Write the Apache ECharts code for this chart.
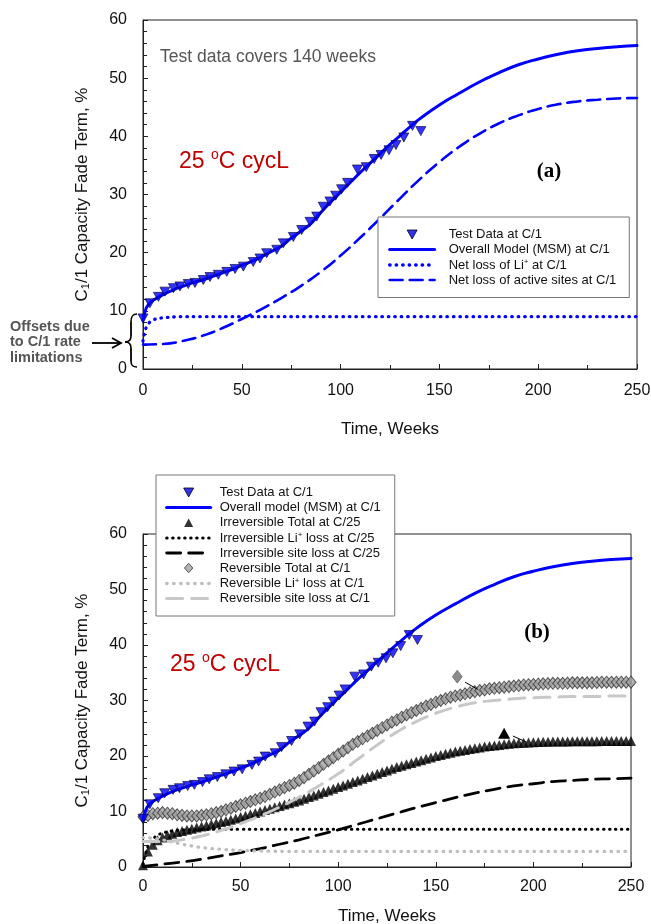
<!DOCTYPE html>
<html><head><meta charset="utf-8">
<script src="https://cdn.jsdelivr.net/npm/echarts@6/dist/echarts.min.js"></script>
<style>html,body{margin:0;padding:0;background:#fff}#c{width:651px;height:924px}</style>
</head><body><div id="c"></div>
<script>
// ---------------- DATA ----------------
const testWeeks = [0, 3.5, 7.8, 11.1, 15.4, 18.7, 22.9, 26.3, 30.5, 33.9, 38.1, 42.4, 46.6, 50.8, 55.8, 59.2, 62.6, 67.7, 71, 76.1, 80.3, 84.5, 87.9, 91.2, 94.6, 97.5, 100.5, 103.5, 108.5, 113, 117, 120.5, 124.5, 128, 132, 136.4, 140.6];
const testValues = [8.7, 11.3, 12.4, 13.3, 13.9, 14.2, 14.6, 14.8, 15.3, 15.8, 16.2, 16.7, 17.2, 17.6, 18.4, 19.0, 19.9, 20.5, 21.6, 22.7, 23.9, 25.3, 26.2, 27.9, 28.8, 29.8, 30.9, 32.0, 34.3, 34.7, 36.1, 36.8, 37.6, 38.5, 39.8, 41.8, 40.9];

const msmWeeks = [0,1,2,4,8,12,16,20,25,30,35,40,45,50,55,60,65,70,75,80,85,90,95,100,105,110,115,120,125,130,135,140,150,160,170,180,190,200,210,220,230,240,250];
const msmValues = [8.4,9.8,10.7,11.5,12.4,13.1,13.7,14.2,14.8,15.3,15.9,16.5,17.1,17.8,18.5,19.3,20.2,21.1,22.5,23.7,25.0,26.9,28.7,30.4,32.1,33.8,35.4,37.0,38.6,40.1,41.6,43.0,45.4,47.4,49.3,50.9,52.3,53.3,54.1,54.7,55.1,55.4,55.6];

const liTopWeeks = [0,1,2,3,5,8,12,16,20,30,50,100,150,200,250];
const liTopValues = [4.8,6.5,7.4,7.9,8.4,8.7,8.85,8.95,9.0,9.0,9.0,9.0,9.0,9.0,9.0];

const siteTopWeeks = [0,10,20,30,40,50,60,70,80,90,100,110,120,130,140,150,160,170,180,190,200,210,220,230,240,250];
const siteTopValues = [4.2,4.3,4.8,5.7,7.0,8.6,10.3,12.2,14.3,16.7,19.5,22.6,25.9,29.3,32.6,35.6,38.2,40.4,42.2,43.6,44.7,45.5,46.0,46.3,46.5,46.6];

const denseWeeks = [0,2.5,5,7.5,10,12.5,15,17.5,20,22.5,25,27.5,30,32.5,35,37.5,40,42.5,45,47.5,50,52.5,55,57.5,60,62.5,65,67.5,70,72.5,75,77.5,80,82.5,85,87.5,90,92.5,95,97.5,100,102.5,105,107.5,110,112.5,115,117.5,120,122.5,125,127.5,130,132.5,135,137.5,140,142.5,145,147.5,150,152.5,155,157.5,160,162.5,165,167.5,170,172.5,175,177.5,180,182.5,185,187.5,190,192.5,195,197.5,200,202.5,205,207.5,210,212.5,215,217.5,220,222.5,225,227.5,230,232.5,235,237.5,240,242.5,245,247.5,250];
const revTotal = [9.0,9.3,9.6,9.7,9.8,9.7,9.6,9.4,9.3,9.2,
  9.2,9.2,9.3,9.4,9.6,9.8,10.0,10.3,10.6,10.9,
  11.2,11.5,11.8,12.1,12.4,12.7,13.1,13.5,13.9,14.3,
  14.7,15.1,15.6,16.1,16.7,17.3,17.9,18.5,19.1,19.7,
  20.3,20.9,21.5,22.1,22.6,23.1,23.6,24.1,24.6,25.1,
  25.6,26.1,26.5,27.0,27.4,27.8,28.2,28.6,29.0,29.3,
  29.7,30.0,30.3,30.6,30.8,31.0,31.2,31.4,31.6,31.8,
  31.9,32.1,32.2,32.3,32.4,32.5,32.6,32.7,32.8,32.85,
  32.9,32.95,33.0,33.05,33.1,33.1,33.1,33.15,33.2,33.2,
  33.2,33.2,33.2,33.25,33.3,33.3,33.3,33.3,33.3,33.3,
  33.3];
const irrTotal = [0.3,2.8,4.0,4.8,5.3,5.7,6.0,6.3,6.5,6.7,
  6.9,7.1,7.3,7.5,7.7,7.9,8.1,8.3,8.5,8.75,
  9.0,9.25,9.5,9.75,10.0,10.25,10.5,10.75,11.0,11.25,
  11.5,11.75,12.0,12.3,12.6,12.9,13.2,13.5,13.8,14.1,
  14.4,14.7,15.0,15.3,15.6,15.9,16.2,16.5,16.8,17.1,
  17.4,17.7,18.0,18.25,18.5,18.75,19.0,19.25,19.5,19.75,
  20.0,20.2,20.4,20.6,20.8,20.95,21.1,21.25,21.4,21.55,
  21.7,21.8,21.9,22.0,22.1,22.2,22.3,22.35,22.4,22.45,
  22.5,22.52,22.55,22.57,22.6,22.6,22.62,22.63,22.65,22.65,
  22.66,22.67,22.68,22.68,22.69,22.69,22.7,22.7,22.7,22.7,
  22.7];

const irrLiWeeks = [0,2,4,7,10,15,20,30,50,100,150,200,250];
const irrLiValues = [0.5,3.2,4.6,5.6,6.1,6.5,6.65,6.75,6.8,6.8,6.8,6.8,6.8];

const irrSiteWeeks = [0,10,20,30,40,50,60,70,80,90,100,110,120,130,140,150,160,170,180,190,200,210,220,230,240,250];
const irrSiteValues = [0.1,0.5,0.9,1.4,2.0,2.6,3.3,4.1,4.9,5.8,6.7,7.7,8.7,9.7,10.7,11.6,12.5,13.3,14.0,14.6,15.0,15.4,15.6,15.8,15.9,16.0];

const revLiWeeks = [0,5,10,15,20,25,30,40,50,60,80,120,250];
const revLiValues = [5.3,5.2,4.9,4.5,4.1,3.8,3.5,3.2,3.0,2.9,2.8,2.8,2.8];

const revSiteWeeks = [0,10,20,30,40,50,60,70,80,90,100,110,120,130,140,150,160,170,180,190,200,210,220,230,240,250];
const revSiteValues = [4.6,4.6,4.9,5.6,6.6,7.8,9.2,10.8,12.6,14.6,16.8,19.4,22.0,24.3,26.2,27.7,28.8,29.6,30.0,30.3,30.5,30.6,30.7,30.7,30.8,30.8];

// annotation anchors (data coords)
const revLabelMark = [161, 34.3];
const revLeader = [[165, 33.3], [171.5, 32.0]];
const irrLabelMark = [185, 24.1];
const irrLeader = [[189.5, 23.6], [196.5, 22.5]];

// ---------------- CHART ----------------
const FONT = 'Liberation Sans';
const BLUE = '#0000ff';
function pairs(w, v) { return w.map((x, i) => [x, v[i]]); }

// legend icons: centred glyph inside a full-width invisible box
const ICON_DOWN_45 = 'path://M0,0M45,10M17.5,0.5L27.5,0.5L22.5,9.5Z';
const ICON_DOWN_44 = 'path://M0,0M44,10M17,0.5L27,0.5L22,9.5Z';
const ICON_UP_44 = 'path://M0,0M44,10M17.5,9.5L26.5,9.5L22,1Z';
const ICON_DIAMOND_44 = 'path://M0,0M44,10M22,0.3L26.2,5L22,9.7L17.8,5Z';

function xAx(gi, gap) {
  return {
    type: 'value', gridIndex: gi, min: 0, max: 250, interval: 50,
    axisLine: { show: true, onZero: false, lineStyle: { color: '#222', width: 1 } },
    axisTick: { show: true, inside: true, length: 5, lineStyle: { color: '#222' } },
    minorTick: { show: true, splitNumber: 2, length: 4, lineStyle: { color: '#222' } },
    splitLine: { show: false }, minorSplitLine: { show: false },
    axisLabel: { fontSize: 16, color: '#111', margin: gi === 0 ? 14 : 12, fontFamily: FONT },
    name: 'Time, Weeks', nameLocation: 'middle', nameGap: gap,
    nameTextStyle: { fontSize: 17, color: '#111', fontFamily: FONT }
  };
}
function yAx(gi) {
  return {
    type: 'value', gridIndex: gi, min: 0, max: 60, interval: 10,
    axisLine: { show: true, onZero: false, lineStyle: { color: '#222', width: 1 } },
    axisTick: { show: true, inside: true, length: 5, lineStyle: { color: '#222' } },
    minorTick: { show: true, splitNumber: 5, length: 4, lineStyle: { color: '#222' } },
    splitLine: { show: false }, minorSplitLine: { show: false },
    axisLabel: { fontSize: 16, color: '#111', margin: 16, fontFamily: FONT },
    name: '{a|C}{sub|1}{a|/1 Capacity Fade Term, %}', nameLocation: 'middle', nameGap: 52, nameRotate: 90,
    nameTextStyle: { color: '#111', fontFamily: FONT, fontSize: 17,
      rich: { a: { fontSize: 17, color: '#111', fontFamily: FONT }, sub: { fontSize: 11, color: '#111', fontFamily: FONT, padding: [7, 0, 0, 0] } } }
  };
}
function lineSeries(name, gi, w, v, color, width, type, extra) {
  return Object.assign({
    type: 'line', name: name, xAxisIndex: gi, yAxisIndex: gi,
    data: pairs(w, v), smooth: 0.5, symbol: 'none', showSymbol: false,
    color: color, lineStyle: { color: color, width: width, type: type, cap: 'round' },
    silent: true, z: 3
  }, extra || {});
}
function testSeries(gi) {
  return {
    type: 'scatter', name: 'Test Data at C/1', xAxisIndex: gi, yAxisIndex: gi,
    data: pairs(testWeeks, testValues), symbol: 'triangle', symbolRotate: 180, symbolSize: [10, 9],
    itemStyle: { color: BLUE, borderColor: '#000033', borderWidth: 0.8 }, clip: false, silent: true, z: 5
  };
}

const supRich = { sup: { fontSize: 8, color: '#111', fontFamily: FONT, padding: [0, 0, 6, 0] } };
const lineItem = (name, w) => ({ name: name, itemStyle: { opacity: 0 }, lineStyle: { width: w } });

const option = {
  animation: false,
  backgroundColor: '#fff',
  textStyle: { fontFamily: FONT },
  grid: [
    { left: 143, top: 20, width: 494, height: 349, show: true, borderColor: '#222', borderWidth: 1, backgroundColor: 'transparent', outerBoundsMode: 'none' },
    { left: 143, top: 534, width: 488, height: 333, show: true, borderColor: '#222', borderWidth: 1, backgroundColor: 'transparent', outerBoundsMode: 'none' }
  ],
  xAxis: [xAx(0, 52), xAx(1, 41)],
  yAxis: [yAx(0), yAx(1)],
  legend: [
    {
      left: 378, top: 217, orient: 'vertical', itemWidth: 45, itemHeight: 10, itemGap: 2,
      padding: [11, 13, 11, 10], backgroundColor: '#fff', borderColor: '#777', borderWidth: 1, selectedMode: false, z: 10,
      textStyle: { fontSize: 13, color: '#111', fontFamily: FONT, padding: [0, 0, 0, 9], rich: supRich },
      formatter: n => n.replace('Li+', 'Li{sup|+}'),
      data: [
        { name: 'Test Data at C/1', icon: ICON_DOWN_45, itemStyle: { color: '#0000e0', borderColor: '#000022', borderWidth: 1 } },
        lineItem('Overall Model (MSM) at C/1', 3),
        lineItem('Net loss of Li+ at C/1', 3.3),
        lineItem('Net loss of active sites at C/1', 2.5)
      ]
    },
    {
      left: 156, top: 475, orient: 'vertical', itemWidth: 44, itemHeight: 10, itemGap: 2,
      padding: [11, 14, 11, 9], backgroundColor: '#fff', borderColor: '#777', borderWidth: 1, selectedMode: false, z: 10,
      textStyle: { fontSize: 13, color: '#111', fontFamily: FONT, padding: [0, 0, 0, 4], rich: supRich },
      formatter: n => n.replace('Li+', 'Li{sup|+}'),
      data: [
        { name: 'Test Data at C/1', icon: ICON_DOWN_44, itemStyle: { color: '#0000e0', borderColor: '#000022', borderWidth: 1 } },
        lineItem('Overall model (MSM) at C/1', 3),
        { name: 'Irreversible Total at C/25', icon: ICON_UP_44, itemStyle: { color: '#000', borderWidth: 0 } },
        lineItem('Irreversible Li+ loss at C/25', 3),
        lineItem('Irreversible site loss at C/25', 2.8),
        { name: 'Reversible Total at C/1', icon: ICON_DIAMOND_44, itemStyle: { color: '#a0a0a0', borderColor: '#333', borderWidth: 1 } },
        lineItem('Reversible Li+ loss at C/1', 3.3),
        lineItem('Reversible site loss at C/1', 3)
      ]
    }
  ],
  series: [
    // top chart
    lineSeries('Net loss of Li+ at C/1', 0, liTopWeeks, liTopValues, BLUE, 3.3, [0.5, 6]),
    lineSeries('Net loss of active sites at C/1', 0, siteTopWeeks, siteTopValues, BLUE, 2.6, [13, 7]),
    lineSeries('Overall Model (MSM) at C/1', 0, msmWeeks, msmValues, BLUE, 3, 'solid'),
    testSeries(0),
    // bottom chart
    {
      type: 'scatter', name: 'Reversible Total at C/1', xAxisIndex: 1, yAxisIndex: 1,
      data: pairs(denseWeeks, revTotal), symbol: 'diamond', symbolSize: [10, 12],
      itemStyle: { color: '#a0a0a0', borderColor: '#333', borderWidth: 1 }, clip: false, silent: true, z: 2,
      markPoint: { silent: true, symbol: 'diamond', symbolSize: [10, 13], label: { show: false },
        itemStyle: { color: '#8c8c8c', borderColor: '#555', borderWidth: 0.6 }, data: [{ coord: revLabelMark }] },
      markLine: { silent: true, symbol: ['none', 'none'], label: { show: false },
        lineStyle: { color: '#000', width: 1, type: 'solid' }, data: [[{ coord: revLeader[0] }, { coord: revLeader[1] }]] }
    },
    {
      type: 'scatter', name: 'Irreversible Total at C/25', xAxisIndex: 1, yAxisIndex: 1,
      data: pairs(denseWeeks, irrTotal), symbol: 'triangle', symbolSize: [10, 10],
      itemStyle: { color: '#000' }, clip: false, silent: true, z: 2,
      markPoint: { silent: true, symbol: 'triangle', symbolSize: [12, 11], label: { show: false },
        itemStyle: { color: '#000' }, data: [{ coord: irrLabelMark }] },
      markLine: { silent: true, symbol: ['none', 'none'], label: { show: false },
        lineStyle: { color: '#000', width: 1, type: 'solid' }, data: [[{ coord: irrLeader[0] }, { coord: irrLeader[1] }]] }
    },
    lineSeries('Irreversible Li+ loss at C/25', 1, irrLiWeeks, irrLiValues, '#000', 3, [0.5, 5.5]),
    lineSeries('Irreversible site loss at C/25', 1, irrSiteWeeks, irrSiteValues, '#000', 2.8, [14, 8]),
    lineSeries('Reversible Li+ loss at C/1', 1, revLiWeeks, revLiValues, '#bdbdbd', 3.3, [0.5, 6.5]),
    lineSeries('Reversible site loss at C/1', 1, revSiteWeeks, revSiteValues, '#c8c8c8', 3, [16, 9]),
    lineSeries('Overall model (MSM) at C/1', 1, msmWeeks, msmValues, BLUE, 3, 'solid'),
    testSeries(1)
  ],
  graphic: [
    { type: 'text', x: 160, y: 57, silent: true, style: { text: 'Test data covers 140 weeks', fontSize: 17.5, fontFamily: FONT, fill: '#555', verticalAlign: 'middle' } },
    { type: 'text', x: 179, y: 162, silent: true, style: { text: '{a|25 }{s|o}{a|C cycL}', verticalAlign: 'middle', fill: '#c00000',
        rich: { a: { fontSize: 23, fontFamily: FONT, fill: '#c00000' }, s: { fontSize: 14, fontFamily: FONT, fill: '#c00000', padding: [0, 0, 14, 0] } } } },
    { type: 'text', x: 549, y: 172, silent: true, style: { text: '(a)', fontSize: 21, fontWeight: 'bold', fontFamily: 'Liberation Serif', fill: '#000', align: 'center', verticalAlign: 'middle' } },
    { type: 'text', x: 170, y: 665, silent: true, style: { text: '{a|25 }{s|o}{a|C cycL}', verticalAlign: 'middle', fill: '#c00000',
        rich: { a: { fontSize: 23, fontFamily: FONT, fill: '#c00000' }, s: { fontSize: 14, fontFamily: FONT, fill: '#c00000', padding: [0, 0, 14, 0] } } } },
    { type: 'text', x: 537, y: 633, silent: true, style: { text: '(b)', fontSize: 21, fontWeight: 'bold', fontFamily: 'Liberation Serif', fill: '#000', align: 'center', verticalAlign: 'middle' } },
    { type: 'text', x: 10, y: 342, silent: true, style: { text: 'Offsets due\nto C/1 rate\nlimitations', fontSize: 14.5, fontWeight: 'bold', fontFamily: FONT, fill: '#555', lineHeight: 15.5, verticalAlign: 'middle' } },
    { type: 'line', silent: true, shape: { x1: 92, y1: 343, x2: 120, y2: 343 }, style: { stroke: '#000', lineWidth: 1.8 } },
    { type: 'polyline', silent: true, shape: { points: [[112, 338], [121, 343], [112, 348]] }, style: { stroke: '#000', lineWidth: 1.8, fill: null } },
    { type: 'bezierCurve', silent: true, shape: { x1: 137, y1: 314, cpx1: 132, cpy1: 314, cpx2: 131, cpy2: 317, x2: 131, y2: 322 }, style: { stroke: '#000', lineWidth: 1.6, fill: null } },
    { type: 'line', silent: true, shape: { x1: 131, y1: 322, x2: 131, y2: 336 }, style: { stroke: '#000', lineWidth: 1.8 } },
    { type: 'bezierCurve', silent: true, shape: { x1: 131, y1: 336, cpx1: 131, cpy1: 340, cpx2: 129, cpy2: 342, x2: 125, y2: 342 }, style: { stroke: '#000', lineWidth: 1.6, fill: null } },
    { type: 'bezierCurve', silent: true, shape: { x1: 125, y1: 342, cpx1: 129, cpy1: 342, cpx2: 131, cpy2: 344, x2: 131, y2: 348 }, style: { stroke: '#000', lineWidth: 1.6, fill: null } },
    { type: 'line', silent: true, shape: { x1: 131, y1: 348, x2: 131, y2: 361 }, style: { stroke: '#000', lineWidth: 1.8 } },
    { type: 'bezierCurve', silent: true, shape: { x1: 131, y1: 361, cpx1: 131, cpy1: 365, cpx2: 132, cpy2: 367, x2: 137, y2: 367 }, style: { stroke: '#000', lineWidth: 1.6, fill: null } }
  ]
};

const chart = echarts.init(document.getElementById('c'), null, { renderer: 'canvas' });
chart.setOption(option);
</script>
</body></html>
